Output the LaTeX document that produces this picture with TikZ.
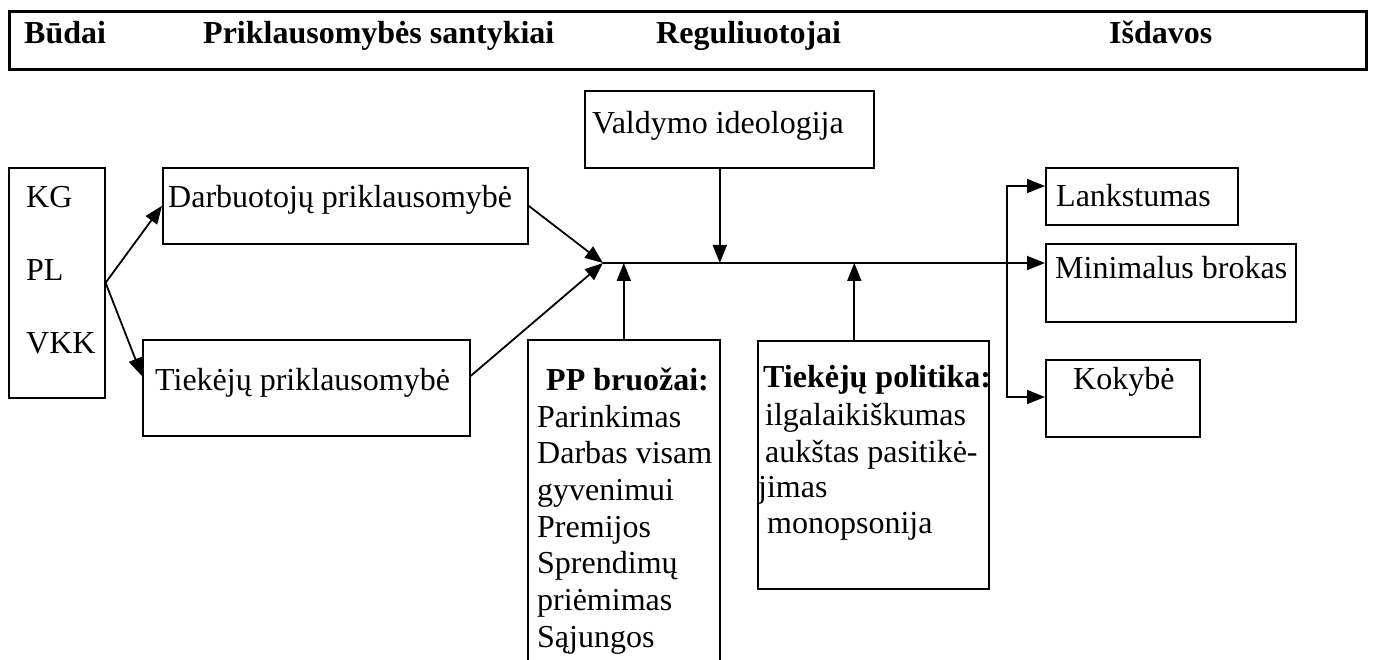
\documentclass[tikz,border=0pt]{standalone}
\usepackage{fontspec}
\setmainfont{Liberation Serif}
\usetikzlibrary{arrows.meta}
\begin{document}
\begin{tikzpicture}[x=1pt,y=-1pt,
  font=\fontsize{32}{36}\selectfont,
  box/.style={draw, line width=1.6pt, inner sep=0pt, anchor=north west},
  txt/.style={anchor=base west, inner sep=0pt},
  btxt/.style={txt, font=\fontsize{32}{36}\selectfont\bfseries},
  arr/.style={line width=1.8pt, -{Triangle[length=18pt,width=14pt]}},
  barr/.style={line width=1.8pt, {Triangle[length=18pt,width=14pt]}-{Triangle[length=18pt,width=14pt]}},
]
\useasboundingbox (0,0) rectangle (1374,660);
\fill[white] (0,0) rectangle (1374,660);

% header
\node[box, line width=3pt, minimum width=1357pt, minimum height=58pt] (hdr) at (8,10) {};
\node[btxt] (h1) at (24,44) {Būdai};
\node[btxt] (h2) at (203,44) {Priklausomybės santykiai};
\node[btxt] (h3) at (656,44) {Reguliuotojai};
\node[btxt] (h4) at (1109,44) {Išdavos};

% boxes
\node[box, minimum width=96pt, minimum height=230pt] (kg) at (8,167) {};
\node[box, minimum width=365pt, minimum height=76pt] (darb) at (162,167) {};
\node[box, minimum width=327pt, minimum height=96pt] (tiek) at (142,339) {};
\node[box, minimum width=289pt, minimum height=77pt] (vald) at (584,90) {};
\node[box, minimum width=192pt, minimum height=360pt] (pp) at (527,339) {};
\node[box, minimum width=231pt, minimum height=248pt] (tp) at (757,340) {};
\node[box, minimum width=192pt, minimum height=57pt] (lank) at (1045,167) {};
\node[box, minimum width=250pt, minimum height=78pt] (mini) at (1045,243) {};
\node[box, minimum width=154pt, minimum height=77pt] (koky) at (1045,359) {};

% texts
\node[txt] (t-kg) at (26,208) {KG};
\node[txt] (t-pl) at (26,281) {PL};
\node[txt] (t-vkk) at (26,354) {VKK};
\node[txt] (t-darb) at (168,208) {Darbuotojų priklausomybė};
\node[txt] (t-tiek) at (155,391) {Tiekėjų priklausomybė};
\node[txt] (t-vald) at (592,134) {Valdymo ideologija};

\node[btxt] (pp0) at (546,390) {PP bruožai:};
\node[txt] (pp1) at (537,427) {Parinkimas};
\node[txt] (pp2) at (537,463) {Darbas visam};
\node[txt] (pp3) at (537,500) {gyvenimui};
\node[txt] (pp4) at (537,537) {Premijos};
\node[txt] (pp5) at (537,573) {Sprendimų};
\node[txt] (pp6) at (537,610) {priėmimas};
\node[txt] (pp7) at (537,647) {Sąjungos};

\node[btxt] (tp0) at (763,388) {Tiekėjų politika:};
\node[txt] (tp1) at (765,425) {ilgalaikiškumas};
\node[txt] (tp2) at (765,462) {aukštas pasitikė-};
\node[txt] (tp3) at (758,497) {jimas};
\node[txt] (tp4) at (767,533) {monopsonija};

\node[txt] (t-lank) at (1056,207) {Lankstumas};
\node[txt] (t-mini) at (1055,279) {Minimalus brokas};
\node[txt] (t-koky) at (1073,389) {Kokybė};

% connectors
\coordinate (J) at (603,263);
\coordinate (Ltop) at (1007,186);
\coordinate (Lbot) at (1007,397);

\draw[arr] (kg.east) -- (darb.west);
\draw[arr] (kg.east) -- ([yshift=-37pt]tiek.north west);
\draw[arr] (darb.east) -- (J);
\draw[arr] ([yshift=-37pt]tiek.north east) -- (J);
\draw[arr] (J) -- (J -| mini.west);
\draw[arr] ([xshift=-9.5pt]vald.south) -- ([xshift=-9.5pt]vald.south |- J);
\draw[arr] (pp.north) -- (pp.north |- J);
\draw[arr] ([xshift=-19pt]tp.north) -- ([xshift=-19pt]tp.north |- J);
\draw[barr] (Ltop -| lank.west) -- (Ltop) -- (Lbot) -- (Lbot -| koky.west);
\end{tikzpicture}
\end{document}
